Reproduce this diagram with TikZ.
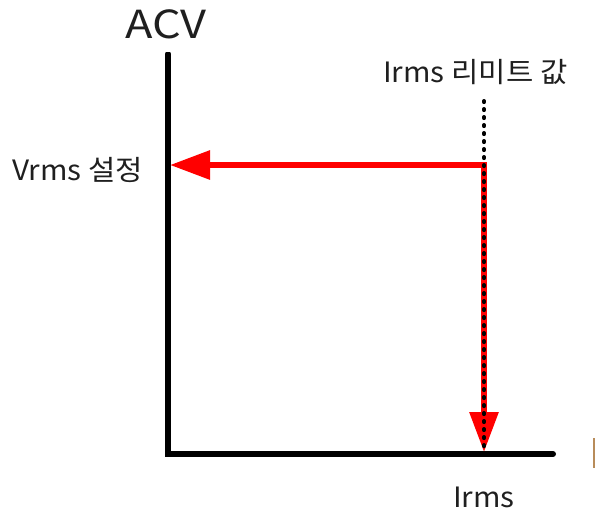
\documentclass[tikz,border=0pt]{standalone}
\usepackage{fontspec}
\setmainfont{Noto Sans CJK KR}
\usetikzlibrary{arrows.meta}
\definecolor{redline}{RGB}{255,0,0}
\definecolor{tanmark}{RGB}{184,140,90}
\tikzset{
  axisline/.style={line width=4.5pt, black},
  redarrow/.style={line width=4.5pt, redline, -{Triangle[length=30pt,width=21pt]}},
  dotline/.style={line width=3pt, black, line cap=round, dash pattern=on 0.8pt off 5.2pt},
  lbl/.style={font=\fontsize{21pt}{24pt}\selectfont, inner sep=0pt, text=black!88, xscale=1.06},
}
\begin{document}
\begin{tikzpicture}[x=0.75pt,y=-0.75pt]
\useasboundingbox (0,0) rectangle (604,512);
% axes
\coordinate (top) at (168,54);
\coordinate (origin) at (168,454);
\coordinate (xend) at (553,454);
\draw[axisline, line cap=round, line join=miter] (top) -- (origin) -- (xend);
\draw[line width=4.5pt, white] (168,50) -- (168,52);
% red arrows
\coordinate (corner) at (484,165);
\coordinate (vtip) at (170,165);
\coordinate (htip) at (484,452);
\draw[redarrow] (corner) -- (vtip);
\draw[redarrow] ([yshift=2.25pt]corner) -- (htip);
% dotted limit line
\coordinate (dtop) at (484,101);
\coordinate (dbot) at (484,450);
\draw[dotline] (dtop) -- (dbot);
% labels
\node[lbl, font=\fontsize{29pt}{33pt}\selectfont, xscale=1.1] (acv) at (166,24) {ACV};
\node[lbl, anchor=west] (vrms) at (12,170) {Vrms 설정};
\node[lbl, anchor=west] (ilim) at (383,72) {Irms 리미트 값};
\node[lbl] (irms) at (484,497) {Irms};
% cropped mark at right edge
\draw[tanmark, line width=1.5pt] (594,438) -- (594,468);
\end{tikzpicture}
\end{document}
